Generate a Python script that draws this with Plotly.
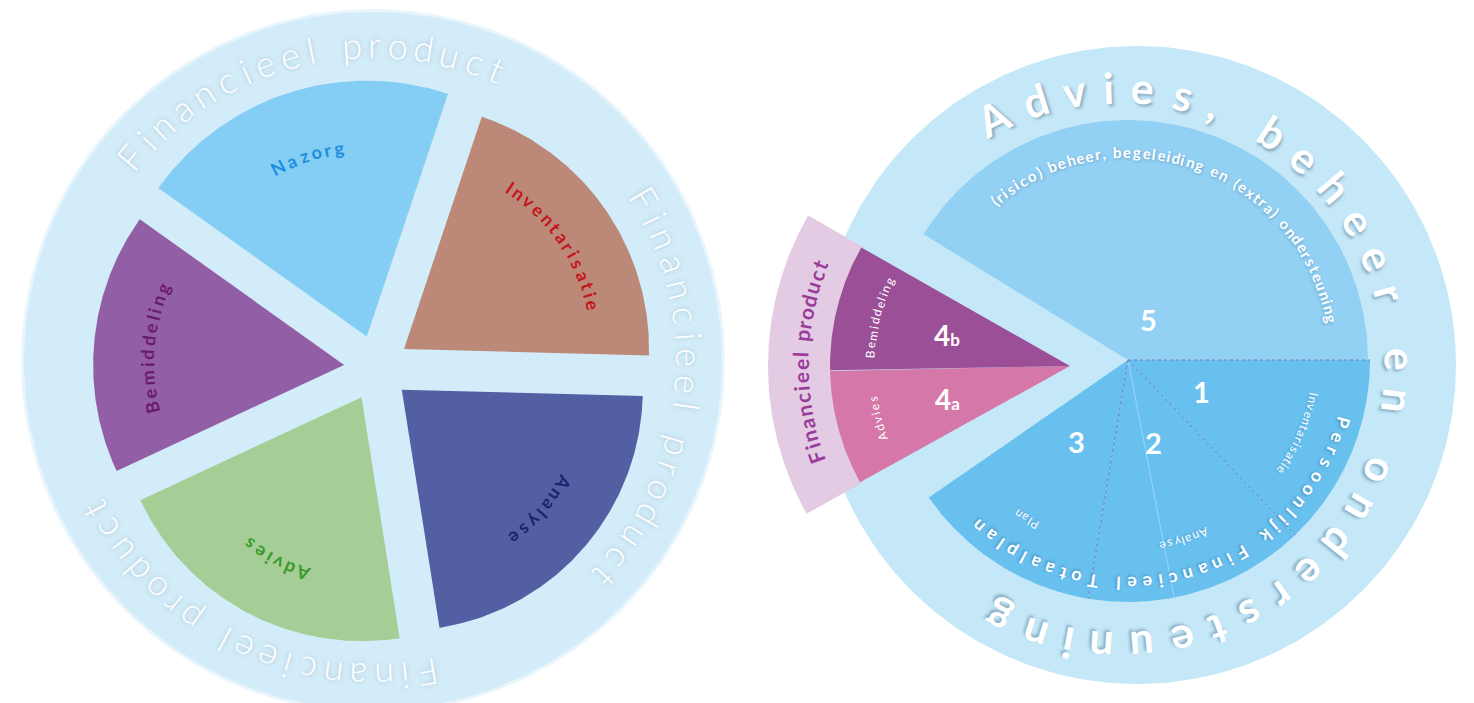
import numpy as np
import plotly.graph_objects as go

W, H = 1474, 703
PAGE_MARGIN = 8   # default body margin of the html page
FONT = "Lato, 'Open Sans', sans-serif"

# ---------------- data ----------------
# Left wheel: five phases, angular size in degrees (counter-clockwise from start)
left_labels = ["Inventarisatie", "Nazorg", "Bemiddeling", "Advies", "Analyse"]
left_spans = [73.0, 73.0, 60.5, 74.0, 79.5]
left_start_angle = -1.5
left_fill = ["#bc8877", "#84cdf4", "#925fa6", "#a4ce96", "#525fa2"]
left_text_color = ["#c3161c", "#1c8fe0", "#6a1b70", "#3a9a2e", "#1b2470"]
left_ring_text = "Financieel product"
left_ring_starts = [140.0, 31.0, -80.0]
left_ring_ends = [67.0, -43.0, -152.0]

# Right wheel
right_top_number = "5"
right_top_text = "(risico) beheer, begeleiding en (extra) ondersteuning"
right_top_span = 148.4          # degrees counter-clockwise from 0
right_numbers = ["1", "2", "3"]
right_names = ["Inventarisatie", "Analyse", "Plan"]
right_spans = [46.3, 53.2, 45.9]  # degrees clockwise from 0
right_faint_divider = -79.0       # faint light line inside sector 2
right_prod_numbers = ["4a", "4b"]
right_prod_names = ["Advies", "Bemiddeling"]
right_prod_spans = [28.0, 30.6]   # clockwise from 209 deg
right_prod_start = 209.0
right_band_text = "Financieel product"
right_inner_ring_text = "Persoonlijk Financieel Totaalplan"
right_outer_ring_text = "Advies, beheer en ondersteuning"

# ---------------- geometry / style ----------------
L_CX, L_CY, L_R = 373, 361, 349
L_EXPL_C = (377, 368)
L_EXPL_D = 33
L_SECT_RADII = [245, 256, 251, 244, 241]
L_LABEL_R = [194, 191, 197, 186, 187]
L_RING_R = 317

R_CX, R_CY = 1128, 360
R_OUT_C = (1137, 365)
R_OUT_R = 319
R_PIE_R = 242
R_TEXT_C = (1120, 368)
R_TEXT_R = 281
W_APEX = (1070, 366)
W_R = 240
BAND_R = 302


def arc_points(cx, cy, r, a0, a1, n=160):
    t = np.radians(np.linspace(a0, a1, n))
    return cx + r * np.cos(t), cy - r * np.sin(t)


def sector_xy(cx, cy, r_in, r_out, a0, a1, n=160):
    xo, yo = arc_points(cx, cy, r_out, a0, a1, n)
    if r_in <= 0:
        x = np.concatenate([[cx], xo, [cx]])
        y = np.concatenate([[cy], yo, [cy]])
    else:
        xi, yi = arc_points(cx, cy, r_in, a1, a0, n)
        x = np.concatenate([xo, xi, xo[:1]])
        y = np.concatenate([yo, yi, yo[:1]])
    return x, y


fig = go.Figure()


def add_poly(x, y, color, opacity=1.0):
    fig.add_trace(go.Scatter(x=x, y=y, mode="lines", fill="toself", fillcolor=color,
                             line=dict(width=0, color=color), opacity=opacity,
                             hoverinfo="skip", showlegend=False))


NARROW = {'i': 0.24, 'l': 0.24, 'j': 0.24, 'I': 0.28, 't': 0.34, 'f': 0.32, 'r': 0.36,
          ' ': 0.34, ',': 0.22, '.': 0.22, '(': 0.32, ')': 0.32, '1': 0.5}
WIDE = {'m': 0.82, 'w': 0.75, 'M': 0.85, 'W': 0.95}


def cw(ch):
    if ch in NARROW:
        return NARROW[ch]
    if ch in WIDE:
        return WIDE[ch]
    if ch.isupper():
        return 0.65
    return 0.53


anns = []


def norm(a):
    return ((a + 180) % 360) - 180


def arc_text(text, cx, cy, r, size, color, start=None, end=None, center=None,
             track=0.25, weight=400, shadow="none"):
    w = np.array([cw(c) * size for c in text])
    steps = (w[:-1] + w[1:]) / 2 + track * size
    cum = np.concatenate([[0], np.cumsum(steps)])
    if start is not None and end is not None:
        ang = start + (end - start) * cum / cum[-1]
    else:
        span = np.degrees(cum[-1] / r)
        ang = center + span / 2 - np.degrees(cum / r)
    for ch, a in zip(text, ang):
        if ch == " ":
            continue
        x = cx + r * np.cos(np.radians(a))
        y = cy - r * np.sin(np.radians(a))
        anns.append(dict(x=x, y=y, xref="x", yref="y", text=ch, showarrow=False,
                         textangle=norm(90 - a), xanchor="center", yanchor="middle",
                         font=dict(family=FONT, size=size, color=color, weight=weight,
                                   shadow=shadow)))


def radial_line(cx, cy, r, ang, color, dash):
    xl, yl = arc_points(cx, cy, r, ang, ang, 2)
    fig.add_trace(go.Scatter(x=[cx, xl[0]], y=[cy, yl[0]], mode="lines",
                             line=dict(color=color, width=1, dash=dash),
                             hoverinfo="skip", showlegend=False))


# ---------------- left wheel ----------------
xh, yh = arc_points(L_CX, L_CY, L_R + 3, 0, 360, 360)
add_poly(xh, yh, "#e4f3fb", 0.8)
xc, yc = arc_points(L_CX, L_CY, L_R, 0, 360, 360)
add_poly(xc, yc, "#d3ecf9")

a = left_start_angle
for lab, span, fc, tc, rr, lr in zip(left_labels, left_spans, left_fill, left_text_color,
                                     L_SECT_RADII, L_LABEL_R):
    a0, a1 = a, a + span
    b = (a0 + a1) / 2
    ax = L_EXPL_C[0] + L_EXPL_D * np.cos(np.radians(b))
    ay = L_EXPL_C[1] - L_EXPL_D * np.sin(np.radians(b))
    x, y = sector_xy(ax, ay, 0, rr, a0, a1)
    add_poly(x, y, fc)
    arc_text(lab, ax, ay, lr, 18, tc, center=b, track=0.2, weight=700)
    a = a1

for s, e in zip(left_ring_starts, left_ring_ends):
    arc_text(left_ring_text, L_CX, L_CY, L_RING_R, 36, "#ffffff", start=s, end=e,
             weight=300, shadow="0px 0px 5px rgba(80,110,130,0.35)")

# ---------------- right wheel ----------------
xc, yc = arc_points(R_OUT_C[0], R_OUT_C[1], R_OUT_R, 0, 360, 360)
add_poly(xc, yc, "#c5e8f8")

# product band + wedge (exploded part 4)
w_end = right_prod_start - sum(right_prod_spans)
x, y = sector_xy(W_APEX[0], W_APEX[1], W_R - 2, BAND_R, w_end - 0.3, right_prod_start + 0.3)
add_poly(x, y, "#e2cbe3")
prod_colors = ["#d577a8", "#9b4f96"]
a = right_prod_start
for num, name, span, col in zip(right_prod_numbers, right_prod_names, right_prod_spans, prod_colors):
    a0, a1 = a - span, a
    x, y = sector_xy(W_APEX[0], W_APEX[1], 0, W_R, a0, a1)
    add_poly(x, y, col)
    b = (a0 + a1) / 2
    arc_text(name, W_APEX[0], W_APEX[1], 200, 12, "#ffffff", center=b, track=0.15, weight=400)
    nx = W_APEX[0] + 127 * np.cos(np.radians(b))
    ny = W_APEX[1] - 127 * np.sin(np.radians(b))
    anns.append(dict(x=nx, y=ny, xref="x", yref="y", showarrow=False,
                     text=num[0] + "<span style='font-size:17px'>" + num[1] + "</span>",
                     font=dict(family=FONT, size=28, color="#ffffff", weight=700)))
    a = a0
arc_text(right_band_text, W_APEX[0], W_APEX[1], 270, 21, "#9a3c99",
         start=199.8, end=158.0, weight=700, track=0.1)

# sector 5
x, y = sector_xy(R_CX, R_CY, 0, R_PIE_R - 2, 0, right_top_span)
add_poly(x, y, "#92d1f3")
arc_text(right_top_text, R_CX, R_CY, 208, 15, "#ffffff", start=130.1, end=11.5,
         weight=700, track=0.1, shadow="1px 1px 3px rgba(40,80,120,0.35)")
anns.append(dict(x=R_CX + 46 * np.cos(np.radians(63)), y=R_CY - 46 * np.sin(np.radians(63)),
                 xref="x", yref="y", text=right_top_number, showarrow=False,
                 font=dict(family=FONT, size=29, color="#ffffff", weight=700)))

# sectors 1-3
num_r = [80, 86, 96]
name_r = 189
a = 0.0
bounds = [0.0]
for num, name, span, nr in zip(right_numbers, right_names, right_spans, num_r):
    a0, a1 = a - span, a
    x, y = sector_xy(R_CX, R_CY, 0, R_PIE_R, a0, a1)
    add_poly(x, y, "#68c0ef")
    b = (a0 + a1) / 2
    arc_text(name, R_CX, R_CY, name_r, 12, "#ffffff", center=b, track=0.1, weight=400,
             shadow="1px 1px 2px rgba(40,80,120,0.3)")
    anns.append(dict(x=R_CX + nr * np.cos(np.radians(b)), y=R_CY - nr * np.sin(np.radians(b)),
                     xref="x", yref="y", text=num, showarrow=False,
                     font=dict(family=FONT, size=29, color="#ffffff", weight=700)))
    a = a0
    bounds.append(a0)

radial_line(R_CX, R_CY, R_PIE_R, right_faint_divider, "rgba(160,215,248,0.9)", "solid")
for bd in bounds[:-1]:
    radial_line(R_CX, R_CY, R_PIE_R, bd, "rgba(125,95,170,0.75)", "dot")

arc_text(right_inner_ring_text, R_CX, R_CY, 224, 18, "#ffffff", start=-16.1, end=-132.0,
         weight=700, track=0.3, shadow="1px 1px 3px rgba(30,70,110,0.45)")
arc_text(right_outer_ring_text, R_TEXT_C[0], R_TEXT_C[1], R_TEXT_R, 43, "#ffffff",
         start=116.8, end=-116.1, weight=700, track=0.25,
         shadow="2px 2px 3px rgba(30,60,90,0.35)")

# the figure starts after the page's body margin: map data units to window pixels
fig.update_layout(
    width=W - PAGE_MARGIN, height=H - PAGE_MARGIN, margin=dict(l=0, r=0, t=0, b=0),
    paper_bgcolor="#ffffff", plot_bgcolor="#ffffff",
    xaxis=dict(range=[PAGE_MARGIN, W], visible=False, fixedrange=True),
    yaxis=dict(range=[H, PAGE_MARGIN], visible=False, fixedrange=True),
    annotations=anns, showlegend=False,
)
fig.write_html("out.html")
